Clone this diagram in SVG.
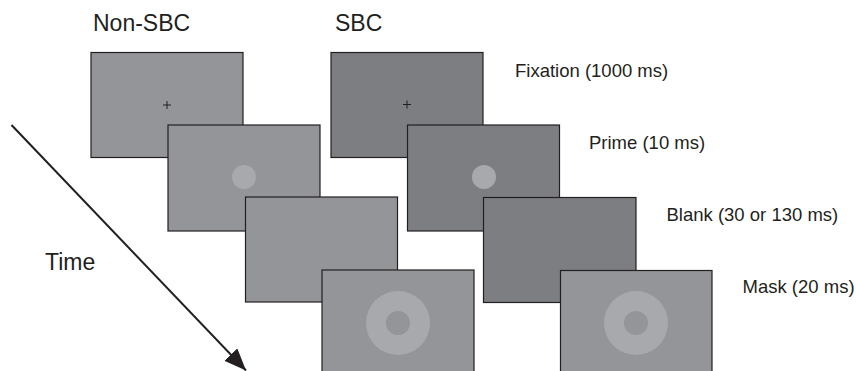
<svg xmlns="http://www.w3.org/2000/svg" width="856" height="371" viewBox="0 0 856 371">
<style>
.lbl{font-family:"Liberation Sans",Arial,sans-serif;fill:#231f20}
.big{font-size:23px}
.sm{font-size:18.5px}
.fr{stroke:#231f20;stroke-width:1.2}
.lt{fill:#939598}
.dk{fill:#7d7e82}
.dot{fill:#a7a9ac}
.cross{stroke:#231f20;stroke-width:1}
</style>
<defs>
<marker id="ah" markerUnits="userSpaceOnUse" markerWidth="24" markerHeight="20" refX="22" refY="9" orient="auto">
<path d="M0,0 L22,9 L0,18 Z" fill="#231f20"/>
</marker>
</defs>
<rect width="856" height="371" fill="#ffffff"/>
<g id="connectors">
<path d="M11.5,125 L246,370.5" stroke="#231f20" stroke-width="2" fill="none" marker-end="url(#ah)"/>
</g>
<g id="header-nonsbc"><text class="lbl big" x="93" y="31">Non-SBC</text></g>
<g id="header-sbc"><text class="lbl big" x="335" y="31">SBC</text></g>
<g id="time-label"><text class="lbl big" x="45" y="270">Time</text></g>
<g id="nonsbc-fixation">
<rect class="fr lt" x="91" y="52.5" width="152" height="105"/>
<path class="cross" d="M163,105 h8 M167,101 v8"/>
</g>
<g id="nonsbc-prime">
<rect class="fr lt" x="168" y="125" width="152" height="106"/>
<circle class="dot" cx="244" cy="177" r="12"/>
</g>
<g id="nonsbc-blank">
<rect class="fr lt" x="245.5" y="197" width="152" height="105"/>
</g>
<g id="nonsbc-mask">
<rect class="fr lt" x="322" y="270" width="152" height="106"/>
<circle class="dot" cx="398" cy="323" r="32"/>
<circle class="lt" cx="398" cy="323" r="12"/>
</g>
<g id="sbc-fixation">
<rect class="fr dk" x="331" y="52.5" width="152" height="105"/>
<path class="cross" d="M403,104.5 h8 M407,100.5 v8"/>
</g>
<g id="sbc-prime">
<rect class="fr dk" x="407.5" y="125" width="152" height="106"/>
<circle class="dot" cx="484" cy="177" r="12"/>
</g>
<g id="sbc-blank">
<rect class="fr dk" x="483.5" y="197.5" width="152.5" height="105"/>
</g>
<g id="sbc-mask">
<rect class="fr lt" x="560.5" y="270.5" width="151.5" height="106"/>
<circle class="dot" cx="636" cy="323" r="32"/>
<circle class="lt" cx="636" cy="323" r="12"/>
</g>
<g id="label-fixation"><text class="lbl sm" x="515" y="77">Fixation (1000 ms)</text></g>
<g id="label-prime"><text class="lbl sm" x="589" y="149">Prime (10 ms)</text></g>
<g id="label-blank"><text class="lbl sm" x="666.5" y="221">Blank (30 or 130 ms)</text></g>
<g id="label-mask"><text class="lbl sm" x="742.5" y="293">Mask (20 ms)</text></g>
</svg>
